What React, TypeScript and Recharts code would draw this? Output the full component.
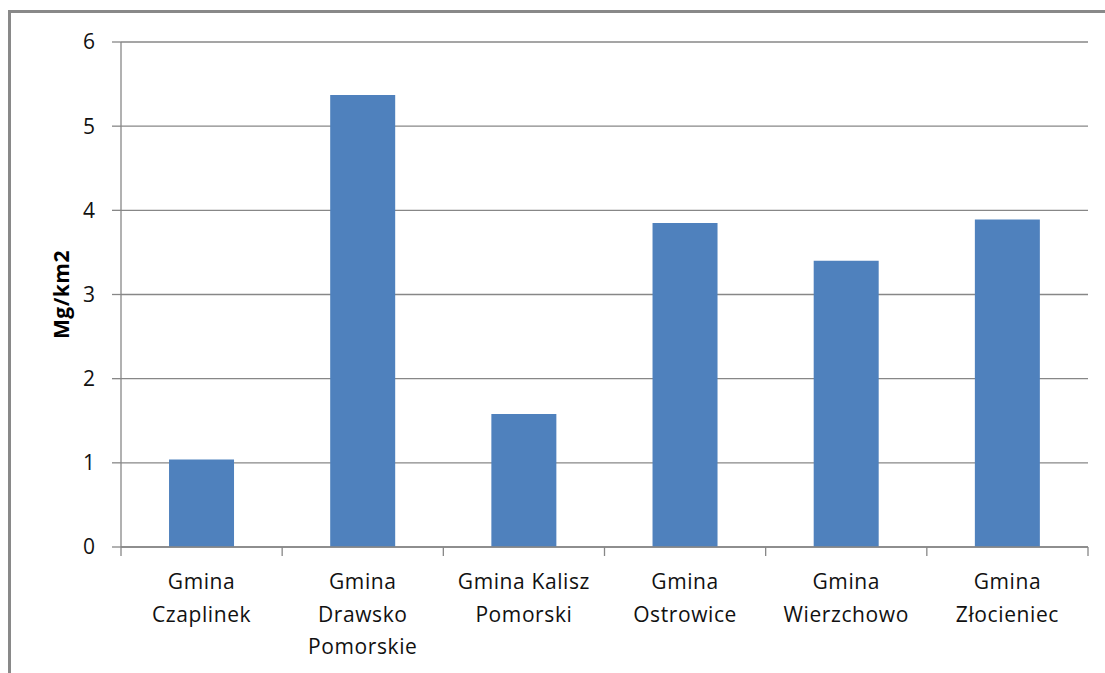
import * as React from 'react';
import { BarChart, Bar, XAxis, YAxis, CartesianGrid } from 'recharts';

const categories = [
  'Gmina Czaplinek',
  'Gmina Drawsko Pomorskie',
  'Gmina Kalisz Pomorski',
  'Gmina Ostrowice',
  'Gmina Wierzchowo',
  'Gmina Złocieniec'
];
const tickLabelLines = [
  ['Gmina', 'Czaplinek'],
  ['Gmina', 'Drawsko', 'Pomorskie'],
  ['Gmina Kalisz', 'Pomorski'],
  ['Gmina', 'Ostrowice'],
  ['Gmina', 'Wierzchowo'],
  ['Gmina', 'Złocieniec']
];
const values = [1.04, 5.37, 1.58, 3.85, 3.4, 3.89];
const yTicks = [0, 1, 2, 3, 4, 5, 6];

const data = categories.map((name, i) => ({ name, value: values[i], idx: i }));

const W = 1105;
const H = 673;
const margin = { top: 42, right: 17, bottom: 26, left: 60 };
const yAxisWidth = 61;
const plotW = W - margin.left - margin.right - yAxisWidth;
const halfBand = plotW / categories.length / 2;
const FONT = '"Open Sans", sans-serif';
const GRID = '#878787';

const XTick = (props: any) => {
  const { x, y, index } = props;
  const lines = tickLabelLines[index] || [];
  const isLast = index === categories.length - 1;
  return (
    <g>
      <line x1={x - halfBand} x2={x - halfBand} y1={y} y2={y + 9} stroke={GRID} strokeWidth={1.3} />
      {isLast && (
        <line x1={x + halfBand} x2={x + halfBand} y1={y} y2={y + 9} stroke={GRID} strokeWidth={1.3} />
      )}
      {lines.map((t, i) => (
        <text
          key={i}
          x={x}
          y={y + 42 + i * 32.5}
          textAnchor="middle"
          fontFamily={FONT}
          fontSize={21}
          letterSpacing={0.6}
          fill="#111"
        >
          {t}
        </text>
      ))}
    </g>
  );
};

const YLabel = (props: any) => {
  const vb = props.viewBox || {};
  const cy = vb.y + vb.height / 2;
  const cx = 61;
  return (
    <text
      x={cx}
      y={cy}
      transform={`rotate(-90, ${cx}, ${cy})`}
      textAnchor="middle"
      dominantBaseline="central"
      fontFamily={FONT}
      fontWeight="bold"
      fontSize={21}
      letterSpacing={0.5}
      fill="#000"
    >
      Mg/km2
    </text>
  );
};

export default function App() {
  return (
    <div style={{ position: 'absolute', left: 0, top: 0, width: W, height: H, background: '#fff' }}>
      <div
        style={{
          position: 'absolute',
          left: 8,
          top: 10,
          width: W,
          height: H,
          borderLeft: `3px solid #898989`,
          borderTop: `3px solid #898989`
        }}
      />
      <div style={{ position: 'absolute', left: 0, top: 0 }}>
        <BarChart width={W} height={H} data={data} margin={margin} barCategoryGap="29.8%">
          <CartesianGrid vertical={false} stroke={GRID} strokeWidth={1.3} />
          <XAxis
            dataKey="name"
            interval={0}
            tickLine={false}
            tickSize={0}
            tickMargin={0}
            height={100}
            axisLine={{ stroke: GRID, strokeWidth: 1.3 }}
            tick={<XTick />}
          />
          <YAxis
            width={yAxisWidth}
            domain={[0, 6]}
            ticks={yTicks}
            interval={0}
            tickSize={9}
            tickMargin={17}
            axisLine={{ stroke: GRID, strokeWidth: 1.3 }}
            tickLine={{ stroke: GRID, strokeWidth: 1.3 }}
            tick={{ fontFamily: FONT, fontSize: 21, fill: '#111' }}
            label={<YLabel />}
          />
          <Bar dataKey="value" fill="#4F81BD" isAnimationActive={false} />
        </BarChart>
      </div>
    </div>
  );
}
